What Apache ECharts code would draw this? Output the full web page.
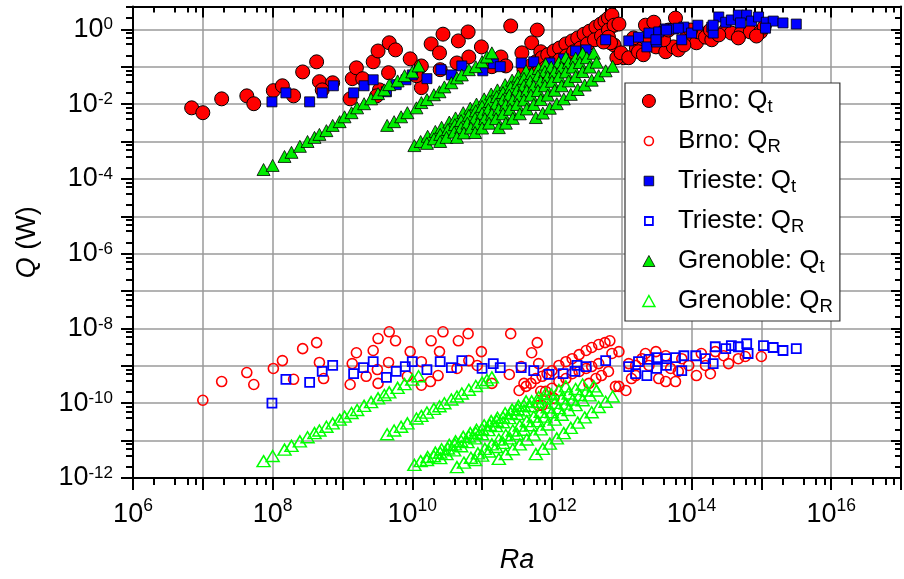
<!DOCTYPE html>
<html><head><meta charset="utf-8">
<script src="https://cdn.jsdelivr.net/npm/echarts@6/dist/echarts.min.js"></script>
<style>html,body{margin:0;padding:0;background:#fff}#c{width:904px;height:579px}</style>
</head><body><div id="c"></div>
<script>
// All values are [log10(Ra), log10(Q / W)].
const brnoQt = [
[6.84,-2.10],[7.00,-2.23],[7.27,-1.86],[7.63,-1.78],[7.73,-1.99],[8.01,-1.64],[8.14,-1.51],[8.30,-1.78],[8.43,-1.14],[8.63,-0.87],[8.67,-1.40],[8.86,-1.43],[8.71,-1.62],[9.11,-1.86],[9.14,-1.32],[9.20,-1.03],[9.29,-1.32],[9.44,-0.87],[9.51,-0.58],[9.67,-0.36],[9.76,-0.55],[9.66,-1.16],[9.53,-1.62],[9.49,-1.78],[9.97,-0.79],[10.13,-0.98],[10.13,-1.56],[10.06,-1.24],[10.27,-0.39],[10.39,-0.63],[10.44,-0.13],[10.66,-0.31],[10.80,-0.07],[10.64,-0.90],[10.81,-0.74],[10.99,-0.47],[11.14,-1.00],[10.40,-1.08],[11.27,-0.74],[11.41,0.09],[11.79,-0.02],[11.71,-0.36],[11.57,-0.63],[11.84,-0.60],[11.79,-0.95],[11.91,-1.08],[11.86,-1.16],[11.34,-0.98],
[11.60,-1.08],[11.69,-0.98],[11.77,-0.87],[11.86,-0.76],[11.94,-0.68],[12.03,-0.58],[12.11,-0.50],[12.20,-0.39],[12.29,-0.31],[12.37,-0.23],[12.46,-0.13],[12.54,-0.05],[12.63,0.06],[12.70,0.14],[12.76,0.22],[12.81,0.30],[12.86,0.38],
[11.71,-1.24],[11.81,-1.14],[11.91,-1.03],[12.01,-0.92],[12.11,-0.82],[12.21,-0.71],[12.31,-0.60],[12.41,-0.50],[12.51,-0.39],[12.61,-0.28],[12.71,-0.18],[12.81,-0.02],[12.89,0.11],
[12.81,-0.21],[12.96,0.14],[12.89,-0.42],[13.03,-0.76],[12.93,-0.76],[12.84,-0.36],[12.99,-0.63],[13.10,-0.76],[13.21,-0.50],[13.24,-0.60],[13.34,0.11],[13.49,-0.47],[13.53,-0.10],[13.63,-0.60],[13.74,-0.47],[13.77,0.30],[13.81,-0.55],[13.93,-0.21],[14.07,-0.36],[14.10,-0.07],[14.20,-0.21],[14.29,-0.28],[14.27,-0.02],[14.49,-0.02],[14.57,-0.10],[14.71,-0.10],[14.84,-0.07],[14.99,-0.07],[15.04,0.06],[13.39,-0.28],[13.60,-0.28],[13.89,-0.42],[13.99,-0.02],[14.39,-0.15],[13.17,-0.23],[12.74,-0.34],[13.31,-0.68],[13.67,-0.02],[13.46,0.19],[14.67,-0.23],[14.93,-0.18]
];
const brnoQR = [
[7.00,-9.92],[7.27,-9.42],[7.63,-9.18],[7.73,-9.50],[8.01,-9.07],[8.14,-8.86],[8.30,-9.36],[8.43,-8.54],[8.63,-8.38],[8.67,-8.91],[8.73,-9.34],[9.11,-9.50],[9.14,-8.94],[9.20,-8.65],[9.34,-9.28],[9.44,-8.59],[9.51,-8.27],[9.67,-8.09],[9.76,-8.33],[9.66,-8.91],[9.51,-9.47],[9.50,-9.10],[9.97,-8.62],[10.13,-8.89],[10.13,-9.52],[10.26,-9.42],[10.37,-9.26],[9.93,-9.28],[10.27,-8.33],[10.39,-8.62],[10.44,-8.09],[10.66,-8.33],[10.80,-8.14],[10.64,-9.07],[10.81,-8.86],[10.99,-8.62],[10.93,-8.99],[11.14,-9.47],[11.41,-8.14],[11.79,-8.38],[11.71,-8.65],[11.56,-9.02],[11.81,-8.94],[11.60,-9.47],[11.39,-9.23],[11.86,-10.06],[11.84,-9.68],[12.03,-9.87],
[11.53,-9.66],[11.63,-9.55],[11.70,-9.47],[11.77,-9.34],[11.86,-9.28],[11.93,-9.21],[12.00,-9.13],[12.10,-8.99],[12.20,-8.89],[12.29,-8.81],[12.39,-8.70],[12.49,-8.59],[12.57,-8.51],[12.67,-8.43],[12.76,-8.38],[12.83,-8.33],
[11.81,-10.06],[11.91,-9.68],[12.00,-9.60],[12.10,-9.42],[12.20,-9.34],[12.29,-9.21],[12.39,-9.15],[12.49,-9.07],[12.57,-9.02],[12.67,-8.94],[12.53,-9.47],[12.63,-9.34],[12.71,-9.26],[12.81,-9.15],[12.96,-9.55],[13.06,-9.66],[13.14,-9.34],
[12.86,-8.67],[12.96,-8.62],[12.91,-9.55],[13.20,-9.26],[13.34,-8.67],[13.53,-9.34],[13.63,-9.42],[13.77,-9.42],[13.81,-9.15],[13.86,-8.81],[14.07,-9.26],[14.14,-8.67],[14.34,-8.62],[14.53,-8.94],[14.67,-8.81],[14.77,-8.75],[13.39,-8.99],[13.20,-8.99],[13.63,-8.73],[13.96,-8.99],[14.20,-8.99],[13.49,-8.62],[13.29,-8.81],[13.10,-8.94],[13.70,-9.07],[14.27,-9.21],[14.46,-8.73],[15.00,-8.75]
];
const triesteQt = [
[7.99,-1.94],[8.19,-1.70],[8.53,-1.94],[8.71,-1.70],[8.87,-1.51],[9.16,-1.70],[9.31,-1.51],[9.44,-1.35],[9.63,-1.67],[9.77,-1.48],[9.91,-1.35],[10.00,-1.22],[10.21,-1.32],[10.41,-1.08],[10.56,-1.22],[10.71,-0.98],[11.01,-1.11],[11.16,-0.92],[11.26,-1.00],[11.56,-0.90],[11.74,-0.87],[11.97,-0.90],[12.17,-0.79],[12.34,-0.58],[12.49,-0.55],[12.77,-0.28],[13.10,-0.31],[13.24,-0.21],[13.39,-0.10],[13.53,-0.07],[13.63,0.01],[13.74,0.01],[13.89,0.06],[13.36,-0.47],[13.50,-0.34],[13.86,-0.28],[14.00,-0.10],[14.09,0.11],[14.29,0.06],[14.39,0.33],[14.49,0.19],[14.57,0.25],[14.67,0.38],[14.79,0.38],[14.86,0.22],[14.96,0.33],[15.07,0.19],[15.17,0.22],[15.31,0.17],[15.50,0.14],[14.31,-0.10],[14.70,0.17],[15.06,0.03],[13.49,-0.28],[13.64,-0.02],[13.81,0.03],[14.31,0.11]
];
const triesteQR = [
[7.99,-10.00],[8.19,-9.36],[8.53,-9.44],[8.71,-9.15],[8.86,-8.99],[9.16,-9.21],[9.30,-9.05],[9.44,-8.89],[9.63,-9.31],[9.77,-9.15],[9.90,-9.02],[10.00,-8.89],[10.21,-9.10],[10.40,-8.89],[10.56,-9.05],[10.71,-8.86],[11.00,-9.07],[11.16,-8.94],[11.26,-9.05],[11.56,-9.05],[11.74,-9.13],[11.96,-9.23],[12.16,-9.21],[12.33,-9.15],[12.36,-8.99],[12.49,-9.02],[12.77,-8.86],[13.10,-9.02],[13.24,-8.89],[13.39,-8.83],[13.50,-8.78],[13.36,-9.26],[13.50,-9.07],[13.64,-8.81],[13.77,-8.78],[13.89,-8.73],[13.86,-9.13],[14.06,-8.73],[14.31,-8.94],[14.34,-8.49],[14.49,-8.54],[14.57,-8.46],[14.67,-8.49],[14.79,-8.41],[14.81,-8.67],[15.03,-8.46],[15.17,-8.51],[15.31,-8.59],[15.50,-8.54],[13.20,-9.21],[13.64,-8.99],[14.20,-8.81]
];
// Grenoble: runs of points sharing Ra values for Q_t and Q_R
const grenA_ra = [7.87,8.00,8.17,8.27,8.39,8.50,8.60,8.67,8.77,8.86,8.96,9.03,9.13,9.21,9.31,9.41,9.51,9.60,9.67,9.79,9.89,10.00,10.09];
const grenA_qt = [-3.75,-3.64,-3.40,-3.29,-3.13,-3.00,-2.89,-2.81,-2.71,-2.57,-2.47,-2.34,-2.23,-2.10,-1.99,-1.86,-1.72,-1.62,-1.48,-1.38,-1.24,-1.14,-0.98];
const grenA_qr = [-11.55,-11.41,-11.24,-11.14,-11.02,-10.91,-10.80,-10.73,-10.63,-10.54,-10.44,-10.36,-10.26,-10.18,-10.07,-9.97,-9.87,-9.78,-9.71,-9.59,-9.49,-9.37,-9.28];
const grenB_ra = [9.64,9.74,9.84,9.93,10.06,10.13,10.21,10.31,10.39,10.46,10.56,10.64,10.71,10.81,10.91,11.00,11.07,11.14];
const grenB_qt = [-2.57,-2.47,-2.34,-2.23,-2.10,-1.96,-1.88,-1.75,-1.67,-1.54,-1.43,-1.30,-1.22,-1.08,-1.00,-0.87,-0.74,-0.63];
const grenB_qr = [-10.83,-10.73,-10.63,-10.54,-10.41,-10.34,-10.25,-10.15,-10.08,-10.00,-9.90,-9.82,-9.74,-9.64,-9.54,-9.45,-9.38,-9.31];
const grenC1_ra = [10.03,10.12,10.22,10.33,10.42,10.53,10.62,10.73,10.83,10.92,11.03,11.13,11.22,11.33,11.43,11.52,11.63];
const grenC1_qt = [-3.11,-3.00,-2.86,-2.73,-2.62,-2.48,-2.37,-2.23,-2.11,-2.00,-1.86,-1.73,-1.62,-1.48,-1.36,-1.25,-1.11];
const grenC1_qr = [-11.65,-11.55,-11.44,-11.32,-11.23,-11.11,-11.02,-10.90,-10.80,-10.71,-10.59,-10.48,-10.39,-10.27,-10.17,-10.07,-9.95];
const grenC2_ra = [10.21,10.31,10.40,10.51,10.61,10.70,10.81,10.91,11.00,11.11,11.21,11.30,11.41,11.51,11.60,11.71,11.81,11.91];
const grenC2_qt = [-3.05,-2.93,-2.81,-2.68,-2.55,-2.44,-2.30,-2.18,-2.06,-1.93,-1.80,-1.69,-1.55,-1.43,-1.31,-1.18,-1.05,-0.93];
const grenC2_qr = [-11.52,-11.42,-11.32,-11.21,-11.10,-11.01,-10.89,-10.79,-10.69,-10.58,-10.47,-10.38,-10.26,-10.16,-10.06,-9.95,-9.84,-9.74];
const grenC3_ra = [10.40,10.49,10.60,10.70,10.79,10.90,11.00,11.09,11.20,11.30,11.39,11.50,11.60,11.69,11.80,11.90,11.99,12.10,12.20];
const grenC3_qt = [-3.00,-2.89,-2.75,-2.63,-2.51,-2.38,-2.25,-2.14,-2.00,-1.88,-1.76,-1.63,-1.50,-1.39,-1.25,-1.13,-1.01,-0.88,-0.75];
const grenC3_qr = [-11.47,-11.36,-11.26,-11.15,-11.04,-10.94,-10.83,-10.72,-10.61,-10.51,-10.40,-10.29,-10.19,-10.08,-9.97,-9.87,-9.76,-9.65,-9.55];
const grenC4_ra = [10.64,10.74,10.84,10.94,11.04,11.14,11.24,11.34,11.44,11.54,11.64,11.74,11.84,11.94,12.04,12.14,12.24,12.34,12.44];
const grenC4_qt = [-2.89,-2.77,-2.64,-2.52,-2.39,-2.27,-2.14,-2.02,-1.89,-1.77,-1.64,-1.52,-1.39,-1.27,-1.14,-1.02,-0.89,-0.77,-0.64];
const grenC4_qr = [-11.71,-11.59,-11.46,-11.34,-11.22,-11.10,-10.97,-10.85,-10.73,-10.60,-10.48,-10.36,-10.23,-10.11,-9.99,-9.87,-9.74,-9.62,-9.50];
const grenC5_ra = [10.90,11.00,11.10,11.20,11.30,11.40,11.50,11.60,11.70,11.80,11.90,12.00,12.10,12.20,12.30,12.40,12.50,12.60];
const grenC5_qt = [-2.76,-2.64,-2.51,-2.39,-2.26,-2.14,-2.01,-1.89,-1.76,-1.64,-1.51,-1.39,-1.26,-1.14,-1.01,-0.89,-0.76,-0.64];
const grenC5_qr = [-11.52,-11.40,-11.29,-11.17,-11.06,-10.94,-10.82,-10.71,-10.59,-10.48,-10.36,-10.24,-10.13,-10.01,-9.90,-9.78,-9.66,-9.55];
const grenC6_ra = [11.24,11.34,11.44,11.54,11.64,11.74,11.84,11.94,12.04,12.14,12.24,12.34,12.44,12.54,12.64];
const grenC6_qt = [-2.63,-2.51,-2.38,-2.26,-2.13,-2.01,-1.88,-1.76,-1.63,-1.51,-1.38,-1.26,-1.13,-1.01,-0.88];
const grenC6_qr = [-11.49,-11.36,-11.23,-11.10,-10.97,-10.84,-10.70,-10.57,-10.44,-10.31,-10.18,-10.05,-9.92,-9.79,-9.66];
const grenC7_ra = [11.77,11.87,11.97,12.07,12.17,12.27,12.37,12.47,12.57,12.67,12.77,12.87];
const grenC7_qt = [-2.36,-2.24,-2.11,-1.99,-1.86,-1.74,-1.61,-1.49,-1.36,-1.24,-1.11,-0.99];
const grenC7_qr = [-11.36,-11.22,-11.08,-10.94,-10.80,-10.66,-10.52,-10.38,-10.24,-10.10,-9.96,-9.82];

const seriesNames = ['Brno: Qt','Brno: QR','Trieste: Qt','Trieste: QR','Grenoble: Qt','Grenoble: QR'];
const legendLabels = ['Brno: Q{sub|t}','Brno: Q{sub|R}','Trieste: Q{sub|t}','Trieste: Q{sub|R}','Grenoble: Q{sub|t}','Grenoble: Q{sub|R}'];
const xExpRange = [6, 17];
const yExpRange = [-12, 0.61];
const minorMult = [2, 4, 6, 8];

function pairs(ra, q) { return ra.map((r, i) => [r, q[i]]); }
const grenRuns = [
  [grenA_ra, grenA_qt, grenA_qr], [grenB_ra, grenB_qt, grenB_qr],
  [grenC1_ra, grenC1_qt, grenC1_qr], [grenC2_ra, grenC2_qt, grenC2_qr],
  [grenC3_ra, grenC3_qt, grenC3_qr], [grenC4_ra, grenC4_qt, grenC4_qr],
  [grenC5_ra, grenC5_qt, grenC5_qr], [grenC6_ra, grenC6_qt, grenC6_qr],
  [grenC7_ra, grenC7_qt, grenC7_qr]
];
const grenQt = [].concat(...grenRuns.map(r => pairs(r[0], r[1])));
const grenQR = [].concat(...grenRuns.map(r => pairs(r[0], r[2])));

function minorTicks(lo, hi) {
  const out = [];
  for (let e = Math.floor(lo); e < hi; e++) {
    minorMult.forEach(k => { const v = e + Math.log10(k); if (v > lo && v < hi) out.push(+v.toFixed(4)); });
  }
  return out;
}
function majorTicks(lo, hi) { const o = []; for (let e = Math.ceil(lo); e <= hi; e++) o.push(e); return o; }

const FONT = '"Liberation Sans", Arial, Helvetica, sans-serif';
const black = '#000';

const xRich = { b: { fontSize: 27, lineHeight: 36, fontFamily: FONT, color: black }, s: { fontSize: 17.5, lineHeight: 17, verticalAlign: 'top', fontFamily: FONT, color: black } };
const yRich = { b: { fontSize: 27, lineHeight: 26, fontFamily: FONT, color: black }, s: { fontSize: 17, lineHeight: 16, verticalAlign: 'top', fontFamily: FONT, color: black } };
const expLabel = v => { const e = Math.round(v); if (Math.abs(v - e) > 1e-6 || e % 2 !== 0) return ''; return '{b|10}{s|' + e + '}'; };

function axisBase(range, extra) {
  return Object.assign({
    type: 'value', min: range[0], max: range[1], interval: 1,
    axisLine: { show: false, onZero: false },
    axisTick: { show: false }, axisLabel: { show: false }, splitLine: { show: false }
  }, extra);
}
const tickLine = { color: black, width: 2 };

const xAxes = [
  axisBase(xExpRange, {
    position: 'bottom',
    axisLine: { show: true, onZero: false, lineStyle: { color: black, width: 2 } },
    axisTick: { show: true, length: 12, lineStyle: tickLine, customValues: majorTicks(xExpRange[0], xExpRange[1]) },
    axisLabel: { show: true, margin: 19, formatter: expLabel, rich: xRich },
    splitLine: { show: true, lineStyle: { color: '#9a9a9a', width: 1.5 } },
    name: 'Ra', nameLocation: 'middle', nameGap: 69,
    nameTextStyle: { fontFamily: FONT, fontSize: 27, fontStyle: 'italic', color: black }
  }),
  axisBase(xExpRange, {
    position: 'top',
    axisLine: { show: true, onZero: false, lineStyle: { color: black, width: 2 } },
    axisTick: { show: true, inside: true, length: 11, lineStyle: tickLine, customValues: majorTicks(xExpRange[0], xExpRange[1]) }
  }),
  axisBase(xExpRange, { position: 'bottom', axisTick: { show: true, length: 7, lineStyle: tickLine, customValues: minorTicks(xExpRange[0], xExpRange[1]) } }),
  axisBase(xExpRange, { position: 'top', axisTick: { show: true, inside: true, length: 6, lineStyle: tickLine, customValues: minorTicks(xExpRange[0], xExpRange[1]) } })
];
const yAxes = [
  axisBase(yExpRange, {
    position: 'left',
    axisLine: { show: true, onZero: false, lineStyle: { color: black, width: 2 } },
    axisTick: { show: true, length: 12, lineStyle: tickLine, customValues: majorTicks(yExpRange[0], yExpRange[1]) },
    axisLabel: { show: true, margin: 20, formatter: expLabel, rich: yRich },
    splitLine: { show: true, lineStyle: { color: '#9a9a9a', width: 1.5 } },
    name: '{i|Q} (W)', nameLocation: 'middle', nameGap: 92,
    nameTextStyle: { fontFamily: FONT, fontSize: 27, color: black, rich: { i: { fontFamily: FONT, fontSize: 27, fontStyle: 'italic', color: black } } }
  }),
  axisBase(yExpRange, {
    position: 'right',
    axisLine: { show: true, onZero: false, lineStyle: { color: black, width: 2 } },
    axisTick: { show: true, inside: true, length: 10, lineStyle: tickLine, customValues: majorTicks(yExpRange[0], yExpRange[1]) }
  }),
  axisBase(yExpRange, { position: 'left', axisTick: { show: true, length: 7, lineStyle: tickLine, customValues: minorTicks(yExpRange[0], yExpRange[1]) } }),
  axisBase(yExpRange, { position: 'right', axisTick: { show: true, inside: true, length: 6, lineStyle: tickLine, customValues: minorTicks(yExpRange[0], yExpRange[1]) } })
];

const styles = [
  { symbol: 'circle', symbolSize: 14, itemStyle: { color: '#ff0000', borderColor: '#000', borderWidth: 1, opacity: 1 } },
  { symbol: 'circle', symbolSize: 10, itemStyle: { color: 'rgba(255,255,255,0)', borderColor: '#ff0000', borderWidth: 1.6, opacity: 1 } },
  { symbol: 'rect', symbolSize: 10, itemStyle: { color: '#0000ff', borderColor: '#000', borderWidth: 0.8, opacity: 1 } },
  { symbol: 'rect', symbolSize: 9, itemStyle: { color: 'rgba(255,255,255,0)', borderColor: '#0000ff', borderWidth: 1.8, opacity: 1 } },
  { symbol: 'triangle', symbolSize: [13, 12], itemStyle: { color: '#00ee00', borderColor: '#000', borderWidth: 0.8, opacity: 1 } },
  { symbol: 'triangle', symbolSize: [13, 11], itemStyle: { color: 'rgba(255,255,255,0)', borderColor: '#00ff00', borderWidth: 1.5, opacity: 1 } }
];
const datasets = [brnoQt, brnoQR, triesteQt, triesteQR, grenQt, grenQR];
const icons = [
  'path://M0,0 M14,14 M0.5,7 A6.5,6.5 0 1 1 13.5,7 A6.5,6.5 0 1 1 0.5,7 Z',
  'path://M0,0 M14,14 M2.5,7 A4.5,4.5 0 1 1 11.5,7 A4.5,4.5 0 1 1 2.5,7 Z',
  'path://M0,0 M14,14 M2.2,2.2 L11.8,2.2 L11.8,11.8 L2.2,11.8 Z',
  'path://M0,0 M14,14 M3,3 L11,3 L11,11 L3,11 Z',
  'path://M0,0 M14,14 M7,1.5 L13,12.5 L1,12.5 Z',
  'path://M0,0 M14,14 M7,1.5 L13,12.5 L1,12.5 Z'
];

const series = datasets.map((d, i) => Object.assign({
  name: seriesNames[i], type: 'scatter', data: d, xAxisIndex: 0, yAxisIndex: 0, silent: true
}, styles[i]));

const chart = echarts.init(document.getElementById('c'), null, { renderer: 'canvas' });
chart.setOption({
  animation: false,
  backgroundColor: '#fff',
  grid: { left: 133, right: 2, top: 6.5, bottom: 99 },
  xAxis: xAxes,
  yAxis: yAxes,
  legend: {
    orient: 'vertical', left: 625, top: 83,
    padding: [3, 7, 5, 16], itemGap: 10, itemWidth: 14, itemHeight: 14,
    backgroundColor: '#fff', borderColor: '#333', borderWidth: 1.2, borderRadius: 0,
    selectedMode: false,
    data: seriesNames.map((n, i) => ({
      name: n, icon: icons[i],
      itemStyle: { color: styles[i].itemStyle.color, borderColor: styles[i].itemStyle.borderColor, borderWidth: styles[i].itemStyle.borderWidth, opacity: 1 }
    })),
    formatter: n => legendLabels[seriesNames.indexOf(n)],
    textStyle: {
      fontFamily: FONT, fontSize: 26, color: black, lineHeight: 30, padding: [0, 0, 0, 17],
      rich: { sub: { fontFamily: FONT, fontSize: 18.5, lineHeight: 10, verticalAlign: 'bottom', color: black } }
    }
  },
  series: series
});
</script>
</body></html>
